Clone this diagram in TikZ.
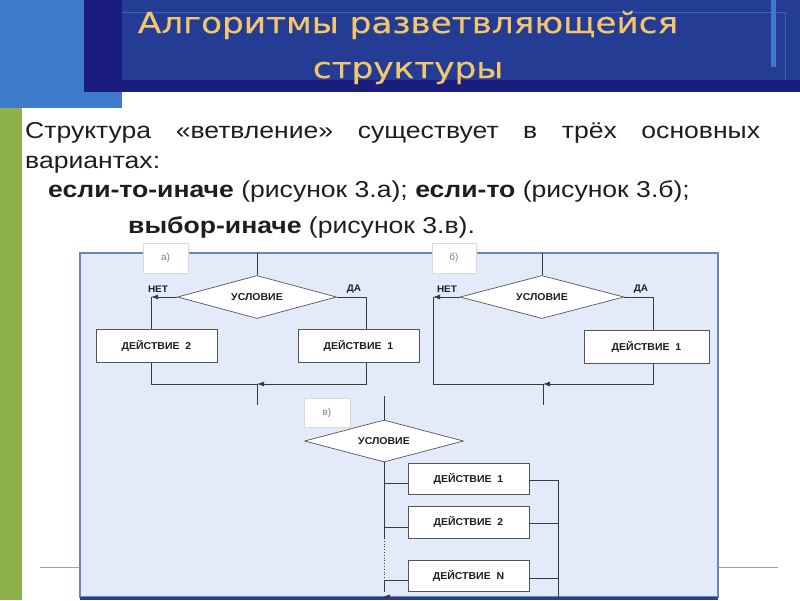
\documentclass[tikz,border=0pt]{standalone}
\usepackage{fontspec}
\setmainfont{Liberation Sans}
\newfontfamily\titlefont[FakeStretch=1.18,FakeBold=0.4]{DejaVu Sans}
\newfontfamily\bodyfont[FakeStretch=1.155]{Liberation Sans}
\newfontfamily\diagfont[FakeStretch=1.05]{Liberation Sans}
\usetikzlibrary{shapes.geometric,arrows.meta,calc}
\definecolor{navy}{HTML}{1B1D7E}
\definecolor{midblue}{HTML}{253C95}
\definecolor{lightbar}{HTML}{3E78CA}
\definecolor{leftblue}{HTML}{3F7BCB}
\definecolor{slidegreen}{HTML}{8DB24B}
\definecolor{panelfill}{HTML}{E3EAFA}
\definecolor{panelborder}{HTML}{6A86B8}
\definecolor{bottomnavy}{HTML}{2A3F88}
\definecolor{titlegold}{HTML}{F2C66A}
\definecolor{bodytext}{HTML}{1E1E1E}
\definecolor{linegray}{HTML}{3A3A3A}
\definecolor{boxgray}{HTML}{555555}
\definecolor{labgray}{HTML}{DADADA}
\definecolor{footgray}{HTML}{A0A0A0}
\begin{document}
\begin{tikzpicture}[x=1pt,y=-1pt,
  line/.style={draw=linegray, line width=0.8pt},
  arr/.style={line, -{Latex[length=7pt,width=5pt]}},
  actbox/.style={draw=boxgray, fill=white, line width=0.7pt, minimum width=121pt,
    minimum height=33pt, inner sep=0pt, text=bodytext,
    font=\diagfont\fontsize{10}{12}\selectfont\bfseries},
  cond/.style={diamond, draw=boxgray, fill=white, line width=0.7pt, inner sep=0pt,
    aspect=3.7, minimum width=159pt, minimum height=43pt, text=bodytext,
    font=\diagfont\fontsize{10}{12}\selectfont\bfseries},
  lab/.style={fill=white, draw=labgray, line width=0.4pt, minimum width=45pt,
    minimum height=30pt, inner sep=0pt, text=gray, font=\fontsize{10}{12}\selectfont},
  yn/.style={inner sep=0pt, text=bodytext, font=\diagfont\fontsize{9.5}{10}\selectfont\bfseries},
  bodyline/.style={anchor=base west, inner sep=0pt, text=bodytext,
    font=\bodyfont\fontsize{23}{27}\selectfont}
]
\useasboundingbox (0,0) rectangle (800,600);
\fill[white] (0,0) rectangle (800,600);
% header
\fill[leftblue] (0,0) rectangle (122,108);
\fill[navy] (84,0) rectangle (800,92);
\fill[midblue] (122,0) rectangle (800,80);
\draw[lightbar!70!midblue, line width=0.8pt] (122,12) -- (785,12) -- (785,80);
\fill[lightbar] (771,0) rectangle (776,67);
\fill[slidegreen] (0,108) rectangle (22,600);
\node[inner sep=0pt, text=titlegold, font=\titlefont\fontsize{29}{34}\selectfont, anchor=base]
  (t1) at (408,33) {Алгоритмы разветвляющейся};
\node[inner sep=0pt, text=titlegold, font=\titlefont\fontsize{29}{34}\selectfont, anchor=base]
  (t2) at (408,78) {структуры};
% body text
\node[bodyline] (l1) at (25,138) {\hbox to 735pt{Структура\hfill «ветвление»\hfill существует\hfill в\hfill трёх\hfill основных}};
\node[bodyline] (l2) at (25,168) {вариантах:};
\node[bodyline] (l3) at (48,197) {\textbf{если-то-иначе} (рисунок 3.а); \textbf{если-то} (рисунок 3.б);};
\node[bodyline] (l4) at (128,233) {\textbf{выбор-иначе} (рисунок 3.в).};
% footer line
\draw[footgray, line width=1pt] (40,567) -- (778,567);
% panel
\draw[panelborder, fill=panelfill, line width=1.5pt] (80,253) rectangle (718,597);
\draw[bottomnavy, line width=3pt] (80,598) -- (718,598);

% ---------- a) ----------
\node[cond] (ca) at (257,297) {УСЛОВИЕ};
\node[actbox] (a2) at (156.5,346) {ДЕЙСТВИЕ\ \ 2};
\node[actbox] (a1) at (358.5,346) {ДЕЙСТВИЕ\ \ 1};
\coordinate (atop) at (257,253);
\coordinate (aL) at (151,297);
\coordinate (aR) at (366,297);
\coordinate (aLb) at (151,384);
\coordinate (aRb) at (366,384);
\coordinate (ja) at (257,384);
\coordinate (aout) at (257,405);
\draw[line] (atop) -- (ca.north);
\draw[arr] (ca.west) -- (aL);
\draw[line] (aL) -- (aL |- a2.north);
\draw[line] (ca.east) -- (aR) -- (aR |- a1.north);
\draw[line] (aL |- a2.south) -- (aLb) -- (ja);
\draw[arr] (aR |- a1.south) -- (aRb) -- (ja);
\draw[line] (ja) -- (aout);
\node[yn] (na) at (158,289) {НЕТ};
\node[yn] (ya) at (354,289) {ДА};

% ---------- b) ----------
\node[cond, minimum width=164pt, aspect=3.8] (cb) at (542,297) {УСЛОВИЕ};
\node[actbox, minimum width=125pt] (b1) at (646.5,346.5) {ДЕЙСТВИЕ\ \ 1};
\coordinate (btop) at (542,253);
\coordinate (bL) at (433,297);
\coordinate (bR) at (653,297);
\coordinate (bLb) at (433,384);
\coordinate (bRb) at (653,384);
\coordinate (jb) at (543,384);
\coordinate (bout) at (543,405);
\draw[line] (btop) -- (cb.north);
\draw[arr] (cb.west) -- (bL);
\draw[line] (bL) -- (bLb) -- (jb);
\draw[line] (cb.east) -- (bR) -- (bR |- b1.north);
\draw[arr] (bR |- b1.south) -- (bRb) -- (jb);
\draw[line] (jb) -- (bout);
\node[yn] (nb) at (447,289) {НЕТ};
\node[yn] (yb) at (641,289) {ДА};

% ---------- v) ----------
\node[cond, aspect=3.8, minimum height=42pt] (cv) at (384,441) {УСЛОВИЕ};
\node[actbox, minimum height=31pt] (e1) at (468.5,478.5) {ДЕЙСТВИЕ\ \ 1};
\node[actbox, minimum height=32pt] (e2) at (468.5,522) {ДЕЙСТВИЕ\ \ 2};
\node[actbox, minimum height=31pt] (e3) at (468.5,575.5) {ДЕЙСТВИЕ\ \ N};
\coordinate (vtop) at (384,396);
\coordinate (tv1) at (384,483);
\coordinate (tv2) at (384,527);
\coordinate (tvd) at (384,538);
\coordinate (tv3) at (384,580);
\coordinate (tvb) at (384,592);
\coordinate (rv1) at (558,480);
\coordinate (rv2) at (558,523);
\coordinate (rv3) at (558,578);
\coordinate (rvb) at (558,597);
\draw[line] (vtop) -- (cv.north);
\draw[line] (cv.south) -- (tvd);
\draw[line, dotted] (tvd) -- (tv3);
\draw[line] (tv3) -- (tvb);
\draw[line] (tv1) -- (tv1 -| e1.west);
\draw[line] (tv2) -- (tv2 -| e2.west);
\draw[line] (tv3) -- (tv3 -| e3.west);
\draw[line] (rv1 -| e1.east) -- (rv1) -- (rvb);
\draw[line] (rv2 -| e2.east) -- (rv2);
\draw[line] (rv3 -| e3.east) -- (rv3);
\fill[linegray] (383,597) -- (390,594.5) -- (390,599.5) -- cycle;

% labels
\node[lab] (la) at (165.5,258) {а)};
\node[lab, minimum width=44pt] (lb) at (454,258) {б)};
\node[lab, minimum width=46pt, minimum height=29pt] (lv) at (327,412.5) {в)};
\end{tikzpicture}
\end{document}
